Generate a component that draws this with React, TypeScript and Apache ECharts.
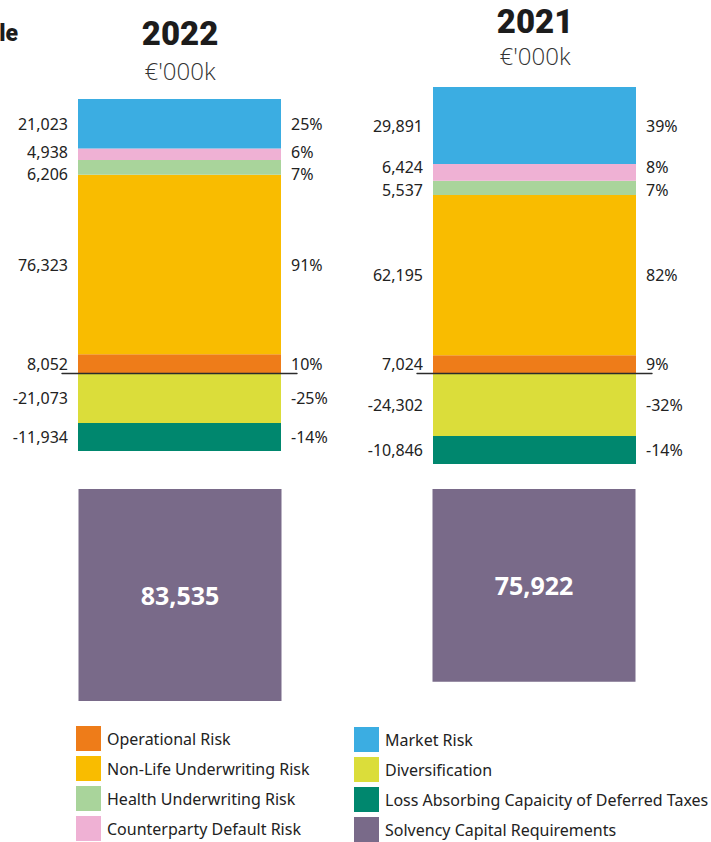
import React, { useEffect, useRef } from "react";
import * as echarts from "echarts";

// ---- Data ----
const years = ["2022", "2021"];
const riskNames = [
  "Operational Risk",
  "Non-Life Underwriting Risk",
  "Health Underwriting Risk",
  "Counterparty Default Risk",
  "Market Risk",
  "Diversification",
  "Loss Absorbing Capaicity of Deferred Taxes",
];
// values per risk: [2022, 2021] (€'000k)
const operational = [8052, 7024];
const nonLife = [76323, 62195];
const health = [6206, 5537];
const counterparty = [4938, 6424];
const market = [21023, 29891];
const diversification = [-21073, -24302];
const lossAbsorbing = [-11934, -10846];
const scr = [83535, 75922];
const scrName = "Solvency Capital Requirements";

const riskValues = [operational, nonLife, health, counterparty, market, diversification, lossAbsorbing];
const riskColors = ["#EE7C19", "#F9BC00", "#A9D49B", "#EFB1D4", "#3BADE2", "#DBDD3A", "#00876E"];
const scrColor = "#796A89";

const LABEL_FONT = "'Noto Sans', 'Open Sans', sans-serif";
const LEGEND_FONT = "'Noto Sans', sans-serif";

const fmt = (v: number) => v.toLocaleString("en-US");

export default function App() {
  const ref = useRef<HTMLDivElement>(null);

  useEffect(() => {
    if (!ref.current) return;
    const chart = echarts.init(ref.current, null, { renderer: "svg" });

    const grids = [
      { left: 62, width: 235, top: 99, height: 352 },
      { left: 417, width: 235, top: 87, height: 377 },
      { left: 3, width: 708, top: 489, height: 212 },
    ];

    const xAxes: any[] = [0, 1].map((g) => ({
      type: "category",
      gridIndex: g,
      data: [years[g]],
      axisTick: { show: false },
      axisLabel: { show: false },
      axisLine: { show: true, onZero: true, lineStyle: { color: "#2b2b2b", width: 1.4 } },
      z: 10,
    }));
    xAxes.push({
      type: "category",
      gridIndex: 2,
      data: years,
      show: false,
    });

    const yAxes: any[] = [0, 1].map((g) => ({
      type: "value",
      gridIndex: g,
      show: false,
      min: "dataMin",
      max: "dataMax",
      splitLine: { show: false },
    }));
    yAxes.push({
      type: "value",
      gridIndex: 2,
      show: false,
      inverse: true,
      min: 0,
      max: "dataMax",
      splitLine: { show: false },
    });

    // small vertical nudges for the two thin neighbouring segments (per year)
    const nudges: Record<number, number[]>[] = [
      { 2: [0, 7], 3: [0, -2] },
      { 2: [0, 2], 3: [0, -5] },
    ];

    const series: any[] = [];
    [0, 1].forEach((g) => {
      riskNames.forEach((name, r) => {
        const v = riskValues[r][g];
        const off = nudges[g][r] || [0, 0];
        series.push({
          type: "bar",
          name,
          xAxisIndex: g,
          yAxisIndex: g,
          stack: "v" + g,
          barWidth: 203,
          barGap: "-100%",
          data: [v],
          itemStyle: { color: riskColors[r] },
          label: {
            show: true,
            position: "left",
            distance: 10,
            offset: off,
            formatter: () => fmt(v),
            color: "#222",
            fontFamily: LABEL_FONT,
            fontSize: 16,
            lineHeight: 16,
          },
          emphasis: { disabled: true },
        });
        series.push({
          type: "bar",
          name: "pct-" + name,
          xAxisIndex: g,
          yAxisIndex: g,
          stack: "p" + g,
          barWidth: 203,
          barGap: "-100%",
          data: [v],
          itemStyle: { color: "rgba(0,0,0,0)" },
          label: {
            show: true,
            position: "right",
            distance: 10,
            offset: off,
            formatter: () => Math.round((v / scr[g]) * 100) + "%",
            color: "#222",
            fontFamily: LABEL_FONT,
            fontSize: 16,
            lineHeight: 16,
          },
          emphasis: { disabled: true },
          z: 1,
        });
      });
    });

    series.push({
      type: "bar",
      name: scrName,
      xAxisIndex: 2,
      yAxisIndex: 2,
      barWidth: 203,
      data: scr,
      itemStyle: { color: scrColor },
      label: {
        show: true,
        position: "inside",
        formatter: (p: any) => fmt(p.value),
        color: "#fff",
        fontFamily: LABEL_FONT,
        fontWeight: "bold",
        fontSize: 25,
      },
      emphasis: { disabled: true },
    });

    const legendCommon = {
      orient: "vertical",
      icon: "rect",
      itemWidth: 25,
      itemHeight: 25,
      itemGap: 5,
      padding: 0,
      height: 125,
      selectedMode: false,
      textStyle: {
        color: "#222",
        fontFamily: LEGEND_FONT,
        fontSize: 16,
        padding: [4, 0, 0, 1],
      },
    };

    chart.setOption({
      animation: false,
      backgroundColor: "#fff",
      grid: grids,
      xAxis: xAxes,
      yAxis: yAxes,
      series,
      legend: [
        { ...legendCommon, left: 76, top: 726, data: riskNames.slice(0, 4) },
        { ...legendCommon, left: 354, top: 727, data: [...riskNames.slice(4), scrName] },
      ],
      graphic: [
        {
          type: "text",
          x: 18,
          y: 33,
          style: {
            text: "le",
            align: "right",
            verticalAlign: "middle",
            fontFamily: "Roboto, sans-serif",
            fontWeight: 900,
            fontSize: 23,
            fill: "#1c1c1c",
          },
        },
        {
          type: "text",
          x: 180,
          y: 33,
          style: {
            text: years[0],
            align: "center",
            verticalAlign: "middle",
            fontFamily: "Roboto, sans-serif",
            fontWeight: 900,
            fontSize: 33,
            fill: "#1c1c1c",
          },
        },
        {
          type: "text",
          x: 180,
          y: 70,
          style: {
            text: "€'000k",
            align: "center",
            verticalAlign: "middle",
            fontFamily: "'Open Sans', sans-serif",
            fontWeight: 300,
            fontSize: 24,
            fill: "#333",
          },
        },
        {
          type: "text",
          x: 535,
          y: 21,
          style: {
            text: years[1],
            align: "center",
            verticalAlign: "middle",
            fontFamily: "Roboto, sans-serif",
            fontWeight: 900,
            fontSize: 33,
            fill: "#1c1c1c",
          },
        },
        {
          type: "text",
          x: 535,
          y: 55,
          style: {
            text: "€'000k",
            align: "center",
            verticalAlign: "middle",
            fontFamily: "'Open Sans', sans-serif",
            fontWeight: 300,
            fontSize: 24,
            fill: "#333",
          },
        },
      ],
    });

    return () => chart.dispose();
  }, []);

  return (
    <div
      ref={ref}
      style={{ position: "fixed", left: 0, top: 0, width: 711, height: 842 }}
    />
  );
}
